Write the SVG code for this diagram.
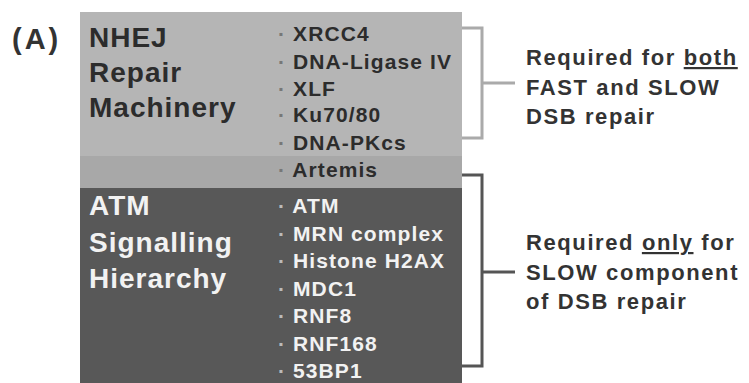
<svg xmlns="http://www.w3.org/2000/svg" width="749" height="383" viewBox="0 0 749 383">
<style>
.hd{font-family:"Liberation Sans",Arial,sans-serif;font-weight:bold;font-size:28px;letter-spacing:1px}
.it{font-family:"Liberation Sans",Arial,sans-serif;font-weight:bold;font-size:21px;letter-spacing:1.1px}
.rt{font-family:"Liberation Sans",Arial,sans-serif;font-weight:bold;font-size:22px;letter-spacing:1.6px;fill:#333}
.dk{fill:#2c2c2c}
.lt{fill:#f2f2f2}
.br{fill:none;stroke-width:3}
</style>
<rect width="749" height="383" fill="#ffffff"/>
<text x="12" y="49" font-family="Liberation Sans, Arial, sans-serif" font-weight="bold" font-size="29" letter-spacing="3" fill="#333">(A)</text>
<g id="nhej">
<rect x="80" y="12" width="382" height="176" fill="#b5b5b5"/>
<rect x="80" y="156" width="382" height="32" fill="#a8a8a8"/>
<text class="hd dk" x="89" y="47">NHEJ</text>
<text class="hd dk" x="89" y="82">Repair</text>
<text class="hd dk" x="89" y="117">Machinery</text>
<g class="it dk">
<text x="278" y="41"><tspan fill="#777">·</tspan> XRCC4</text>
<text x="278" y="69"><tspan fill="#777">·</tspan> DNA-Ligase IV</text>
<text x="278" y="96"><tspan fill="#777">·</tspan> XLF</text>
<text x="278" y="122"><tspan fill="#777">·</tspan> Ku70/80</text>
<text x="278" y="150"><tspan fill="#777">·</tspan> DNA-PKcs</text>
<text x="278" y="177"><tspan fill="#777">·</tspan> Artemis</text>
</g>
</g>
<g id="atm">
<rect x="80" y="188" width="382" height="195" fill="#585858"/>
<text class="hd lt" x="89" y="215">ATM</text>
<text class="hd lt" x="89" y="252">Signalling</text>
<text class="hd lt" x="89" y="288">Hierarchy</text>
<g class="it lt">
<text x="278" y="213"><tspan fill="#bbb">·</tspan> ATM</text>
<text x="278" y="241"><tspan fill="#bbb">·</tspan> MRN complex</text>
<text x="278" y="268"><tspan fill="#bbb">·</tspan> Histone H2AX</text>
<text x="278" y="296"><tspan fill="#bbb">·</tspan> MDC1</text>
<text x="278" y="323"><tspan fill="#bbb">·</tspan> RNF8</text>
<text x="278" y="351"><tspan fill="#bbb">·</tspan> RNF168</text>
<text x="278" y="378"><tspan fill="#bbb">·</tspan> 53BP1</text>
</g>
</g>
<g id="connectors">
<path class="br" stroke="#aaaaaa" d="M462 28 H482 V138 H462 M482 83 H515"/>
<path class="br" stroke="#555555" d="M462 175 H482 V366 H462 M482 272 H515"/>
</g>
<g id="label-both">
<text class="rt" x="526" y="65">Required for <tspan text-decoration="underline">both</tspan></text>
<text class="rt" x="526" y="95">FAST and SLOW</text>
<text class="rt" x="526" y="124">DSB repair</text>
</g>
<g id="label-only">
<text class="rt" x="526" y="250">Required <tspan text-decoration="underline">only</tspan> for</text>
<text class="rt" x="526" y="280">SLOW component</text>
<text class="rt" x="526" y="309">of DSB repair</text>
</g>
</svg>
